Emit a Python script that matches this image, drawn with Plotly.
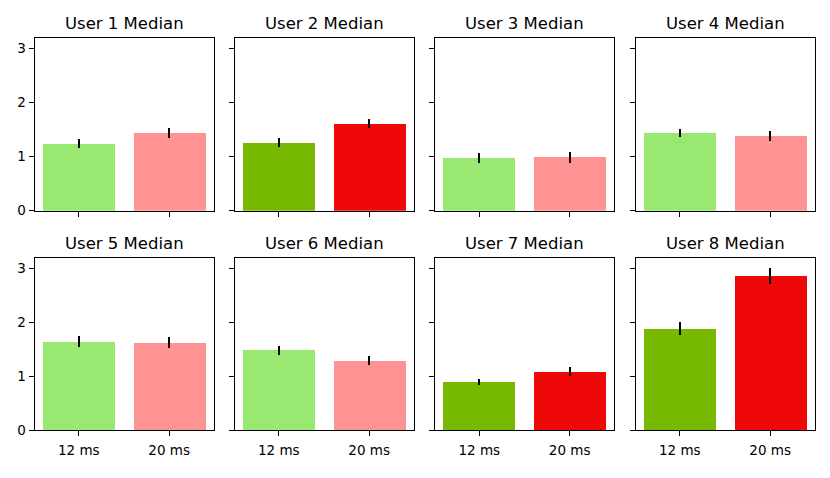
import plotly.graph_objects as go

users = ["User 1", "User 2", "User 3", "User 4", "User 5", "User 6", "User 7", "User 8"]
conditions = ["12 ms", "20 ms"]
median_12 = [1.24, 1.26, 0.975, 1.43, 1.643, 1.48, 0.898, 1.885]
median_20 = [1.436, 1.61, 0.987, 1.375, 1.625, 1.29, 1.08, 2.85]
err_12 = [0.085, 0.08, 0.097, 0.075, 0.105, 0.088, 0.058, 0.12]
err_20 = [0.09, 0.075, 0.1, 0.095, 0.11, 0.085, 0.082, 0.15]
significant = [False, True, False, False, False, False, True, True]

# page body has an 8px margin on every side; keep the whole page at 830x478
OFF = 8
W, H = 830 - 2 * OFF, 478 - 2 * OFF
LIGHT = ["#98e872", "#ff9292"]
STRONG = ["#77b800", "#ee0808"]

lefts = [34.5, 234.5, 435.0, 635.5]
pw = 179.0
rows_px = [(38.3, 214.3), (262.3, 437.7)]

fig = go.Figure()
layout = {}
annotations = []
for i, u in enumerate(users):
    r, c = divmod(i, 4)
    idx = i + 1
    xa = "x" if idx == 1 else f"x{idx}"
    ya = "y" if idx == 1 else f"y{idx}"
    cols = STRONG if significant[i] else LIGHT
    fig.add_trace(go.Bar(
        x=[0, 1], y=[median_12[i], median_20[i]],
        width=0.8,
        marker=dict(color=cols, line=dict(width=0)),
        error_y=dict(type="data", array=[err_12[i], err_20[i]], color="black",
                     thickness=2, width=0),
        xaxis=xa, yaxis=ya, showlegend=False,
    ))
    x0 = (lefts[c] - OFF) / W
    x1 = (lefts[c] + pw - OFF) / W
    top, bot = rows_px[r]
    y0 = 1 - (bot - OFF) / H
    y1 = 1 - (top - OFF) / H
    common = dict(showline=True, mirror=True, linecolor="black", linewidth=1,
                  ticks="outside", ticklen=5, tickwidth=1, tickcolor="black",
                  showgrid=False, zeroline=False,
                  tickfont=dict(family="DejaVu Sans", size=13.5, color="black"))
    layout["xaxis" if idx == 1 else f"xaxis{idx}"] = dict(
        domain=[x0, x1], anchor=ya, range=[-0.49, 1.49], ticklabelstandoff=3,
        tickvals=[0, 1], ticktext=conditions if r == 1 else ["", ""], **common)
    layout["yaxis" if idx == 1 else f"yaxis{idx}"] = dict(
        domain=[y0, y1], anchor=xa, range=[0, 3.19],
        tickvals=[0, 1, 2, 3], ticktext=["0", "1", "2", "3"] if c == 0 else ["", "", "", ""],
        **common)
    annotations.append(dict(
        text=f"{u} Median", x=(x0 + x1) / 2, y=1 - (top - 14.5 - OFF) / H,
        xref="paper", yref="paper", xanchor="center", yanchor="middle",
        showarrow=False, font=dict(family="DejaVu Sans", size=16.5, color="black")))

fig.update_layout(
    width=W, height=H, margin=dict(l=0, r=0, t=0, b=0),
    paper_bgcolor="white", plot_bgcolor="white",
    annotations=annotations, bargap=0, **layout)

fig.write_html("out.html")
